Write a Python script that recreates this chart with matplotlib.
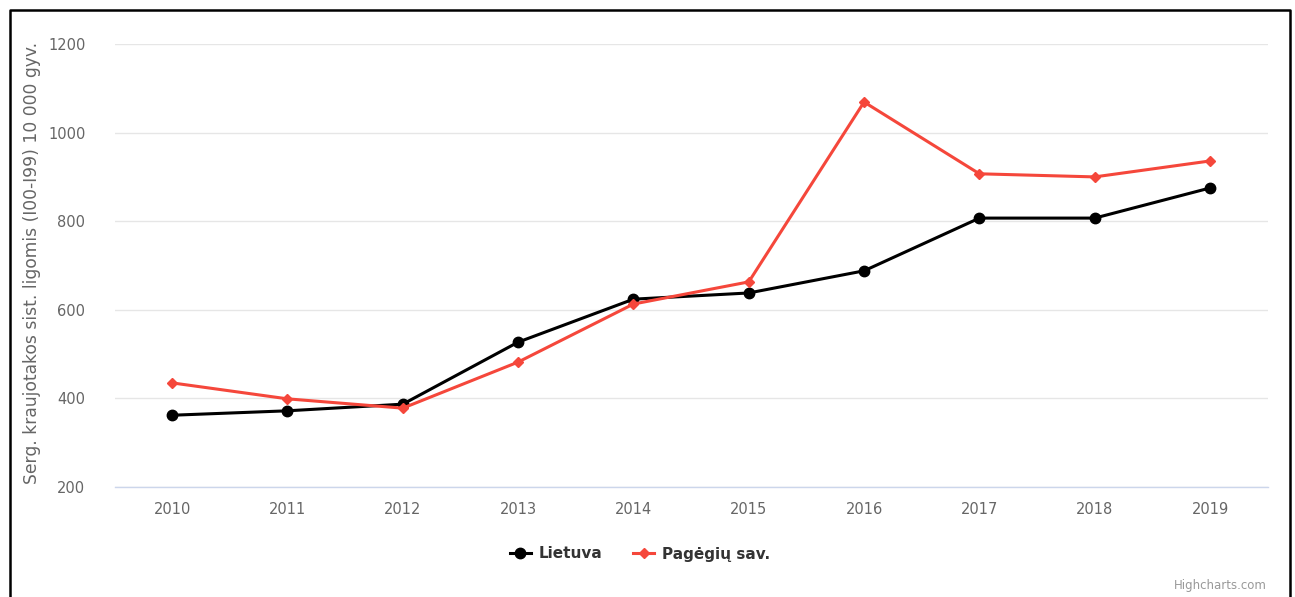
import matplotlib
matplotlib.use("Agg")
from matplotlib import pyplot as plt
from matplotlib.lines import Line2D

# Data
years = ["2010", "2011", "2012", "2013", "2014", "2015", "2016", "2017", "2018", "2019"]
lietuva = [362, 372, 387, 527, 624, 638, 688, 807, 807, 875]
pagegiai = [435, 399, 378, 482, 613, 663, 1069, 907, 900, 936]
y_ticks = [200, 400, 600, 800, 1000, 1200]

W, H = 1295, 597
fig = plt.figure(figsize=(W / 100, H / 100), dpi=100)
fig.patch.set_facecolor("white")

# plot area in pixel terms
left, right, top, bottom = 114.5, 1267.7, 44, 487
ax = fig.add_axes([left / W, 1 - bottom / H, (right - left) / W, (bottom - top) / H])

x = list(range(len(years)))
ax.plot(x, lietuva, color="black", lw=2.2, marker="o", ms=7.5, zorder=3)
ax.plot(x, pagegiai, color="#f5473b", lw=2.2, marker="D", ms=5, zorder=3)

ax.set_xlim(-0.5, len(years) - 0.5)
ax.set_ylim(200, 1200)
ax.set_yticks(y_ticks)
ax.set_yticklabels([str(v) for v in y_ticks])
ax.set_xticks(x)
ax.set_xticklabels(years)

ax.grid(axis="y", color="#e6e6e6", lw=1)
ax.set_axisbelow(True)
for s in ["top", "right", "left"]:
    ax.spines[s].set_visible(False)
ax.spines["bottom"].set_color("#ccd6eb")
ax.spines["bottom"].set_linewidth(1)
ax.tick_params(axis="y", length=0, pad=21, labelsize=10.5, labelcolor="#666666")
ax.tick_params(axis="x", length=0, pad=11, labelsize=10.5, labelcolor="#666666")

fig.text(32 / W, 1 - 263 / H, "Serg. kraujotakos sist. ligomis (I00-I99) 10 000 gyv.",
         rotation=90, ha="center", va="center", fontsize=12.3, color="#666666")

# legend
handles = [
    Line2D([], [], color="black", lw=2.2, marker="o", ms=7.5),
    Line2D([], [], color="#f5473b", lw=2.2, marker="D", ms=5),
]
leg = fig.legend(handles, ["Lietuva", "Pagėgių sav."], loc="center",
                 bbox_to_anchor=(640 / W, 1 - 554 / H), ncol=2, frameon=False,
                 handlelength=1.4, columnspacing=2.0, handletextpad=0.5,
                 prop={"weight": "bold", "size": 11})
for t in leg.get_texts():
    t.set_color("#333333")

fig.text(1267 / W, 1 - 585 / H, "Highcharts.com", ha="right", va="center",
         fontsize=8.5, color="#999999")

# outer black frame of the screenshot
frame_x = [10 / W, 10 / W, 1290 / W, 1290 / W]
frame_y = [0, 1 - 10 / H, 1 - 10 / H, 0]
fig.add_artist(Line2D(frame_x, frame_y, color="black", lw=1.8, transform=fig.transFigure))

fig.savefig("out.png", dpi=100)
